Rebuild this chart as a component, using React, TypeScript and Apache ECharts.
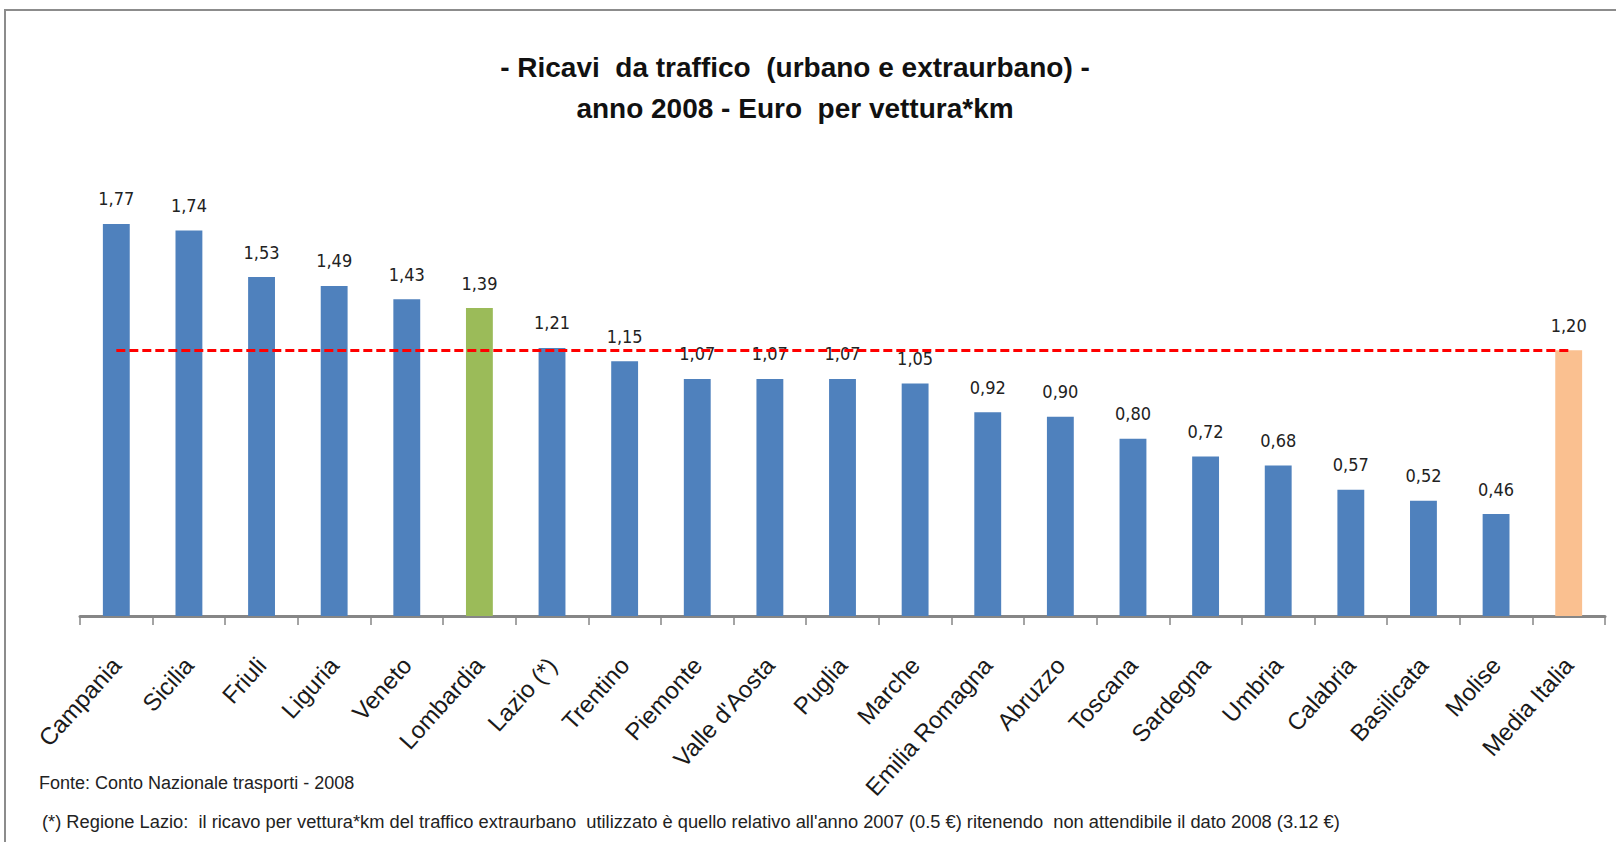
import React, { useEffect, useRef } from "react";
import * as echarts from "echarts";

const categories = [
  "Campania", "Sicilia", "Friuli", "Liguria", "Veneto", "Lombardia", "Lazio (*)",
  "Trentino", "Piemonte", "Valle d'Aosta", "Puglia", "Marche", "Emilia Romagna",
  "Abruzzo", "Toscana", "Sardegna", "Umbria", "Calabria", "Basilicata", "Molise",
  "Media Italia",
];
const values = [
  1.77, 1.74, 1.53, 1.49, 1.43, 1.39, 1.21, 1.15, 1.07, 1.07, 1.07, 1.05, 0.92,
  0.9, 0.8, 0.72, 0.68, 0.57, 0.52, 0.46, 1.2,
];
const mediaItalia = 1.2;
const highlightGreen = "Lombardia";
const highlightOrange = "Media Italia";

const titleLine1 = "- Ricavi  da traffico  (urbano e extraurbano) -";
const titleLine2 = "anno 2008 - Euro  per vettura*km";
const note1 = "Fonte: Conto Nazionale trasporti - 2008";
const note2 =
  "(*) Regione Lazio:  il ricavo per vettura*km del traffico extraurbano  utilizzato è quello relativo all'anno 2007 (0.5 €) ritenendo  non attendibile il dato 2008 (3.12 €)";

const BLUE = "#4f81bd";
const GREEN = "#9bbb59";
const ORANGE = "#fac090";

export default function App() {
  const ref = useRef<HTMLDivElement>(null);
  useEffect(() => {
    if (!ref.current) return;
    const chart = echarts.init(ref.current, null, { renderer: "svg" });
    const narrow = "'Liberation Sans Narrow', 'DejaVu Sans Condensed', sans-serif";
    const sans = "'Liberation Sans', Arial, sans-serif";
    chart.setOption({
      animation: false,
      backgroundColor: "#ffffff",
      grid: { left: 80, right: 11, top: 173, bottom: 226, containLabel: false },
      xAxis: {
        type: "category",
        data: categories,
        boundaryGap: true,
        axisLine: { lineStyle: { color: "#868686", width: 3 } },
        axisTick: { show: true, alignWithLabel: false, length: 9, lineStyle: { color: "#868686", width: 1.5 } },
        axisLabel: {
          interval: 0,
          rotate: 48,
          margin: 45,
          color: "#1a1a1a",
          fontFamily: sans,
          fontSize: 24,
        },
      },
      yAxis: {
        type: "value",
        min: 0,
        max: 2,
        show: false,
        splitLine: { show: false },
      },
      series: [
        {
          type: "bar",
          barWidth: "37%",
          data: values.map((v, i) => ({
            value: v,
            itemStyle: {
              color:
                categories[i] === highlightGreen
                  ? GREEN
                  : categories[i] === highlightOrange
                  ? ORANGE
                  : BLUE,
            },
          })),
          label: {
            show: true,
            position: "top",
            distance: 16,
            color: "#222222",
            fontFamily: narrow,
            fontSize: 18,
            formatter: (p: any) => Number(p.value).toFixed(2).replace(".", ","),
          },
          markLine: {
            silent: true,
            symbol: "none",
            label: { show: false },
            lineStyle: { color: "#ff0000", width: 3, type: [9, 4] },
            data: [
              [
                { coord: [0, mediaItalia] },
                { coord: [categories.length - 1, mediaItalia] },
              ],
            ],
          },
        },
      ],
      graphic: [
        {
          type: "rect",
          shape: { x: 5, y: 10, width: 1700, height: 900 },
          style: { fill: "none", stroke: "#8c8c8c", lineWidth: 2 },
          silent: true,
        },
        {
          type: "text",
          x: 795,
          y: 67,
          style: {
            text: titleLine1,
            fill: "#111111",
            font: `bold 28px ${sans}`,
            textAlign: "center",
            textVerticalAlign: "middle",
          },
        },
        {
          type: "text",
          x: 795,
          y: 108,
          style: {
            text: titleLine2,
            fill: "#111111",
            font: `bold 28px ${sans}`,
            textAlign: "center",
            textVerticalAlign: "middle",
          },
        },
        {
          type: "text",
          x: 39,
          y: 783,
          style: {
            text: note1,
            fill: "#222222",
            font: `18px ${sans}`,
            textAlign: "left",
            textVerticalAlign: "middle",
          },
        },
        {
          type: "text",
          x: 42,
          y: 821,
          style: {
            text: note2,
            fill: "#222222",
            font: `18.3px ${sans}`,
            textAlign: "left",
            textVerticalAlign: "middle",
          },
        },
      ],
    });
    return () => chart.dispose();
  }, []);
  return (
    <div
      ref={ref}
      style={{ position: "absolute", left: 0, top: 0, width: 1616, height: 842 }}
    />
  );
}
